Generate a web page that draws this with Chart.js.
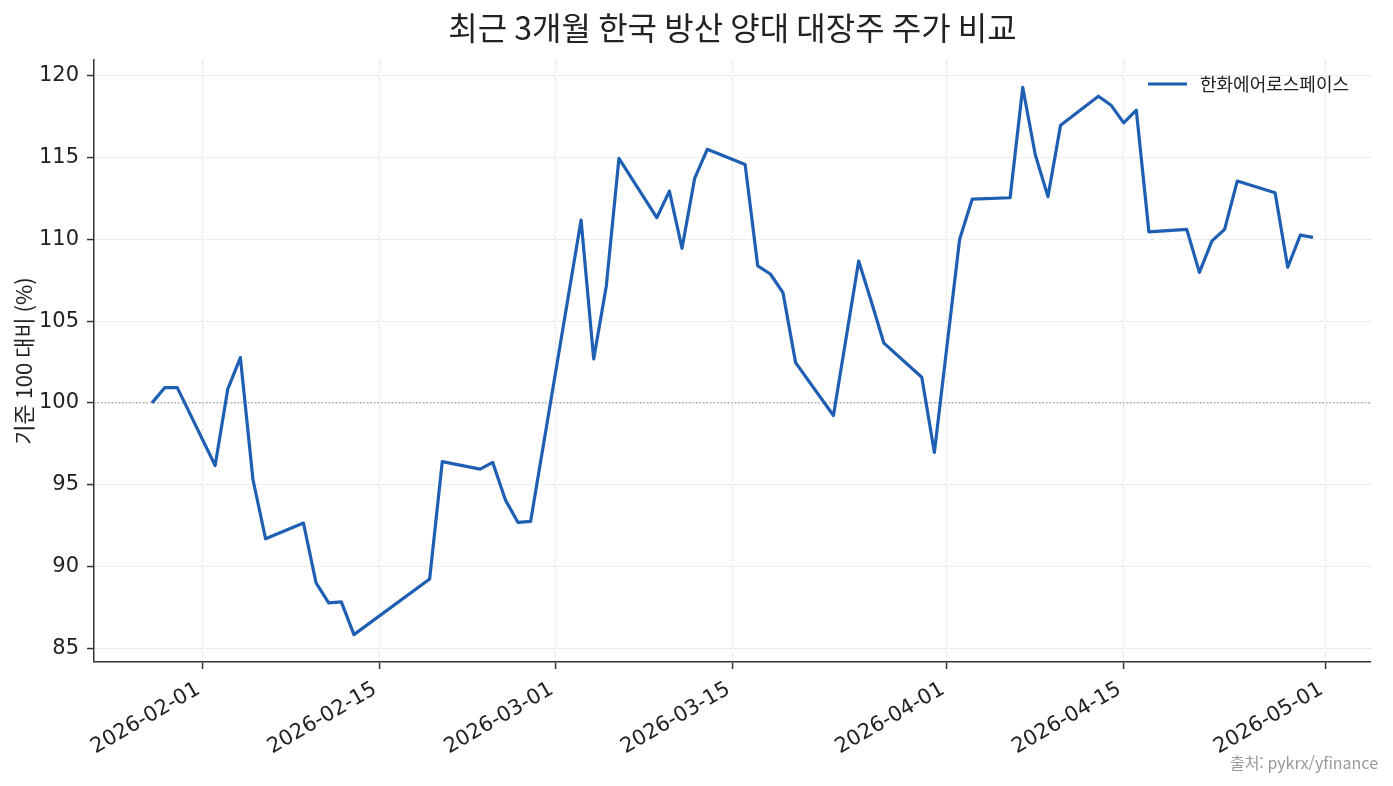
<!DOCTYPE html>
<html lang="ko">
<head>
<meta charset="utf-8">
<title>최근 3개월 한국 방산 양대 대장주 주가 비교</title>
<script src="https://cdn.jsdelivr.net/npm/chart.js@4.4.1/dist/chart.umd.min.js"></script>
<style>
  html, body { margin: 0; padding: 0; background: #fff; }
  #chart { display: block; }
</style>
</head>
<body>
<canvas id="chart" width="1393" height="786"></canvas>
<script>
// trading days (KRX) and the rebased close, first day = 100
const tradeDates = [
  "2026-01-28", "2026-01-29", "2026-01-30",
  "2026-02-02", "2026-02-03", "2026-02-04", "2026-02-05", "2026-02-06",
  "2026-02-09", "2026-02-10", "2026-02-11", "2026-02-12", "2026-02-13",
  "2026-02-19", "2026-02-20",
  "2026-02-23", "2026-02-24", "2026-02-25", "2026-02-26", "2026-02-27",
  "2026-03-03", "2026-03-04", "2026-03-05", "2026-03-06",
  "2026-03-09", "2026-03-10", "2026-03-11", "2026-03-12", "2026-03-13",
  "2026-03-16", "2026-03-17", "2026-03-18", "2026-03-19", "2026-03-20",
  "2026-03-23", "2026-03-24", "2026-03-25", "2026-03-26", "2026-03-27",
  "2026-03-30", "2026-03-31", "2026-04-01", "2026-04-02", "2026-04-03",
  "2026-04-06", "2026-04-07", "2026-04-08", "2026-04-09", "2026-04-10",
  "2026-04-13", "2026-04-14", "2026-04-15", "2026-04-16", "2026-04-17",
  "2026-04-20", "2026-04-21", "2026-04-22", "2026-04-23", "2026-04-24",
  "2026-04-27", "2026-04-28", "2026-04-29", "2026-04-30"
];
const hanwhaValues = [
  100.00, 100.93, 100.93,
  96.17, 100.84, 102.77, 95.30, 91.69,
  92.65, 88.99, 87.77, 87.83, 85.83,
  89.23, 96.41,
  95.95, 96.36, 94.07, 92.69, 92.75,
  111.18, 102.69, 107.15, 114.95,
  111.32, 112.95, 109.45, 113.72, 115.50,
  114.58, 108.37, 107.88, 106.74, 102.46,
  99.23, 103.95, 108.67, 106.20, 103.65,
  101.57, 96.97, 103.50, 110.00, 112.46,
  112.54, 119.29, 115.15, 112.61, 116.98,
  118.75, 118.20, 117.12, 117.90, 110.46,
  110.61, 107.98, 109.90, 110.61, 113.56,
  112.85, 108.29, 110.26, 110.12
];
const xTickDates = ["2026-02-01", "2026-02-15", "2026-03-01", "2026-03-15", "2026-04-01", "2026-04-15", "2026-05-01"];
const yTickValues = [85, 90, 95, 100, 105, 110, 115, 120];
const baseValue = 100;

const seriesLabel = "한화에어로스페이스";
const titleText = "최근 3개월 한국 방산 양대 대장주 주가 비교";
const yAxisText = "기준 100 대비 (%)";
const sourceText = "출처: pykrx/yfinance";

const KR_FONT = '"Noto Sans CJK KR", "Noto Sans", sans-serif';
const TICK_FONT = '"DejaVu Sans", sans-serif';
const LINE_COLOR = "#1f5fb3";

const DAY_MS = 86400000;
function toDay(s) {
  const [y, m, d] = s.split("-").map(Number);
  return Date.UTC(y, m - 1, d) / DAY_MS;
}
function fromDay(n) {
  return new Date(Math.round(n) * DAY_MS).toISOString().slice(0, 10);
}

const points = tradeDates.map((d, i) => ({ x: toDay(d), y: hanwhaValues[i] }));

// 5% margins on both axes, like matplotlib's autoscale
const xs = points.map((p) => p.x);
const ys = points.map((p) => p.y);
const xPad = (Math.max(...xs) - Math.min(...xs)) * 0.05;
const yPad = (Math.max(...ys) - Math.min(...ys)) * 0.05;
const xMin = Math.min(...xs) - xPad;
const xMax = Math.max(...xs) + xPad;
const yMin = Math.min(...ys) - yPad;
const yMax = Math.max(...ys) + yPad;

// legend box and source note drawn inside the figure
const overlayText = {
  id: "overlayText",
  afterDraw(chart) {
    const ctx = chart.ctx;
    const area = chart.chartArea;
    const ds = chart.data.datasets[0];
    ctx.save();

    const ly = area.top + 24;
    const lx = area.right - 223;
    ctx.strokeStyle = ds.borderColor;
    ctx.lineWidth = 3;
    ctx.beginPath();
    ctx.moveTo(lx, ly);
    ctx.lineTo(lx + 39, ly);
    ctx.stroke();

    ctx.fillStyle = "#222";
    ctx.font = `18px ${KR_FONT}`;
    ctx.textAlign = "left";
    ctx.textBaseline = "middle";
    ctx.fillText(ds.label, lx + 52, ly);

    ctx.fillStyle = "#999";
    ctx.font = `16px ${KR_FONT}`;
    ctx.textAlign = "right";
    ctx.fillText(sourceText, chart.width - 15, 763);
    ctx.restore();
  },
};

const gridStyle = {
  color: "#e6e6e6",
  lineWidth: 1.1,
  tickLength: 7,
  tickColor: "#333",
  tickWidth: 1.5,
};
const borderStyle = { color: "#333", width: 1.5, dash: [5, 3] };

const ctx = document.getElementById("chart").getContext("2d");
new Chart(ctx, {
  type: "line",
  data: {
    datasets: [
      {
        label: seriesLabel,
        data: points,
        borderColor: LINE_COLOR,
        backgroundColor: LINE_COLOR,
        borderWidth: 3.2,
        borderJoinStyle: "round",
        pointRadius: 0,
        tension: 0,
      },
      {
        label: "base",
        data: [{ x: xMin, y: baseValue }, { x: xMax, y: baseValue }],
        borderColor: "#a0a0a0",
        borderWidth: 1.2,
        borderDash: [1.5, 2],
        pointRadius: 0,
        tension: 0,
      },
    ],
  },
  options: {
    responsive: false,
    animation: false,
    devicePixelRatio: 1,
    layout: { padding: { left: 0, right: 22, top: 0, bottom: 0 } },
    plugins: {
      legend: { display: false },
      tooltip: { enabled: false },
      title: {
        display: true,
        text: titleText,
        fullSize: false,
        color: "#222",
        font: { family: KR_FONT, size: 32, weight: "normal" },
        padding: { top: 9, bottom: 12.6 },
      },
    },
    scales: {
      x: {
        type: "linear",
        min: xMin,
        max: xMax,
        afterBuildTicks: (scale) => {
          scale.ticks = xTickDates.map((d) => ({ value: toDay(d) }));
        },
        afterFit: (scale) => {
          scale.height = 124;
        },
        ticks: {
          callback: (v) => fromDay(v),
          autoSkip: false,
          minRotation: 30,
          maxRotation: 30,
          padding: 8,
          labelOffset: -4,
          color: "#222",
          font: { family: TICK_FONT, size: 21 },
        },
        grid: gridStyle,
        border: borderStyle,
      },
      y: {
        min: yMin,
        max: yMax,
        afterBuildTicks: (scale) => {
          scale.ticks = yTickValues.map((v) => ({ value: v }));
        },
        afterFit: (scale) => {
          scale.width = 94;
        },
        ticks: {
          padding: 8,
          color: "#222",
          font: { family: TICK_FONT, size: 21 },
        },
        title: {
          display: true,
          text: yAxisText,
          color: "#222",
          font: { family: KR_FONT, size: 22 },
          padding: { top: 10, bottom: 0 },
        },
        grid: gridStyle,
        border: borderStyle,
      },
    },
  },
  plugins: [overlayText],
});
</script>
</body>
</html>
